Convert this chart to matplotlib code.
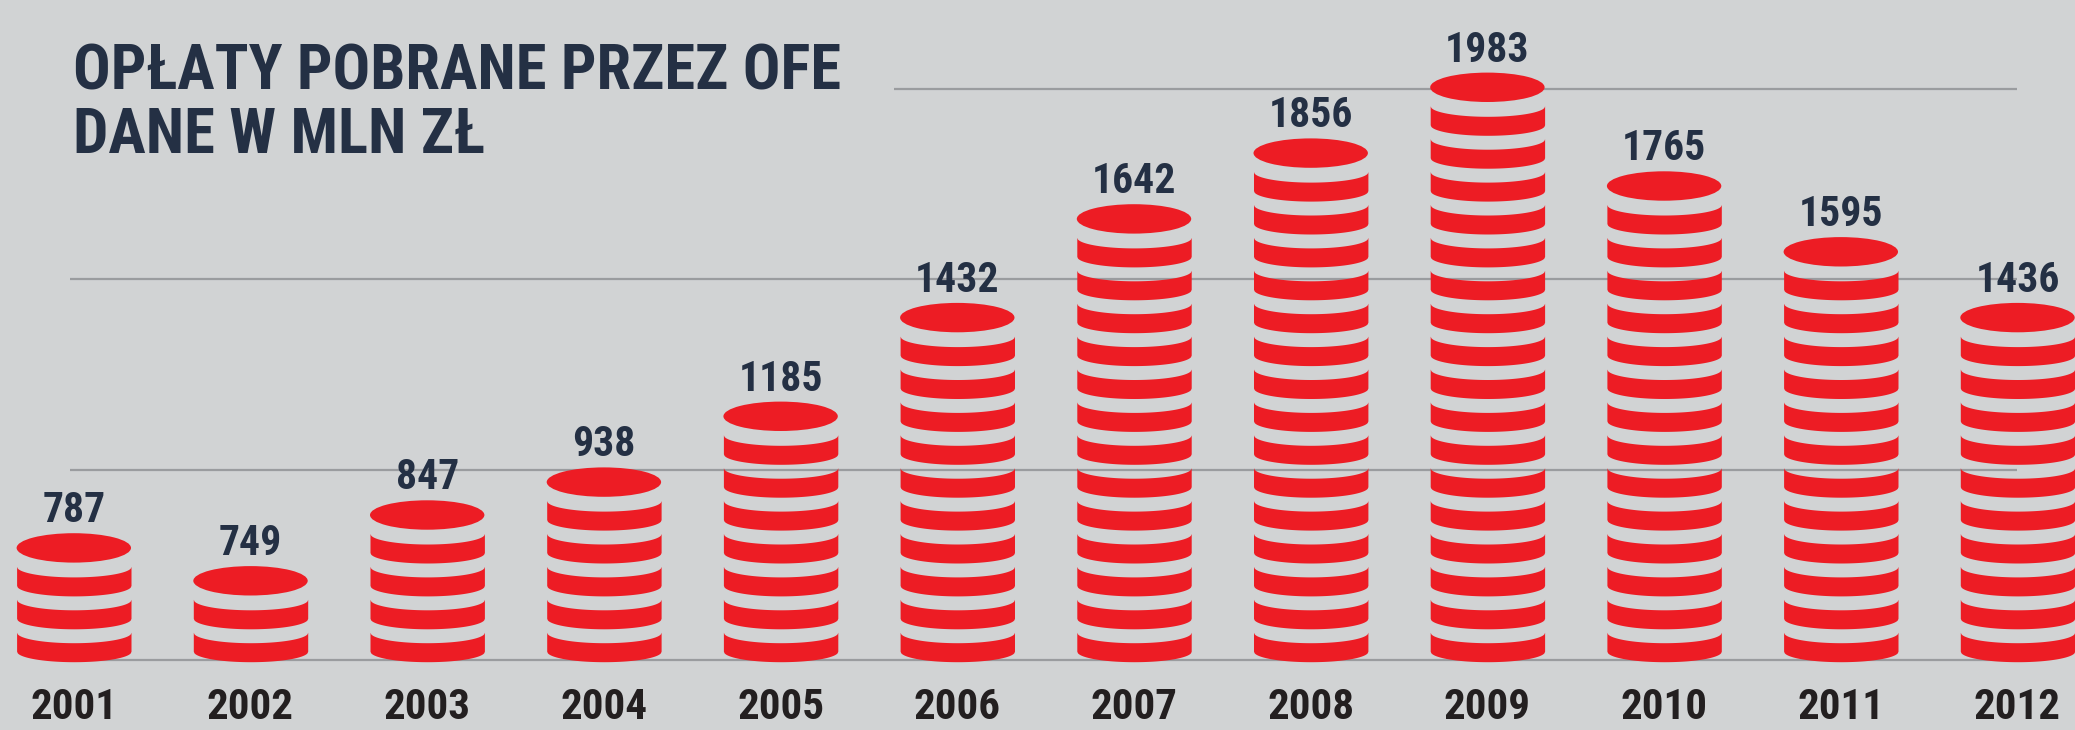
"""Opłaty pobrane przez OFE 2001-2012 - coin stack pictogram.

Writes out.png (2075x730) next to where it is run.
"""
import matplotlib
matplotlib.use("Agg")

import numpy as np
import matplotlib.pyplot as plt
from matplotlib.patches import Ellipse


# ---------------------------------------------------------------------------
# Data
# ---------------------------------------------------------------------------
years = ["2001", "2002", "2003", "2004", "2005", "2006",
         "2007", "2008", "2009", "2010", "2011", "2012"]
fees = [787, 749, 847, 938, 1185, 1432, 1642, 1856, 1983, 1765, 1595, 1436]
grid_values = [500, 1000, 1500, 2000]
title_lines = ["OPŁATY POBRANE PRZEZ OFE", "DANE W MLN ZŁ"]

# ---------------------------------------------------------------------------
# Style
# ---------------------------------------------------------------------------
BG = "#d1d3d4"
RED = "#ed1c24"
NAVY = "#243044"
DARK = "#231f20"
GRID = "#9a9c9f"
COND = ["Roboto Condensed", "DejaVu Sans"]

# layout, in output pixels
W_PX, H_PX = 2075, 730
X0_PX, X_STEP_PX = 73.8, 176.7        # centre of first stack, stack spacing
Y_BASE, Y_BASE_PX = 500, 660          # value sitting on the baseline
PX_PER_UNIT = 0.3807                  # vertical scale


def vy(px):
    """pixel height -> value units"""
    return px / PX_PER_UNIT


HALF_W = 57.2 / X_STEP_PX     # coin half width (x units)
PITCH = vy(32.9)              # one coin
SAG = vy(10.5)                # curvature of coin rims
THICK = vy(19.0)              # red part of a coin rim
CAP_RISE = vy(48.0)           # last rim bottom -> centre of top face
CAP_H = vy(14.7)              # half height of top face
LABEL_RISE = vy(25.7)         # top face centre -> label baseline
COIN_BOTTOM = Y_BASE - vy(1.7)


def main():
    fig = plt.figure(figsize=(W_PX / 100, H_PX / 100), dpi=100)
    fig.patch.set_facecolor(BG)
    ax = fig.add_axes([0, 0, 1, 1])
    ax.set_xlim(-X0_PX / X_STEP_PX, (W_PX - X0_PX) / X_STEP_PX)
    ax.set_ylim(Y_BASE - (H_PX - Y_BASE_PX) / PX_PER_UNIT,
                Y_BASE + Y_BASE_PX / PX_PER_UNIT)
    ax.axis("off")

    # gridlines (top one starts right of the title)
    last = len(fees) - 1
    starts = [0.0, -0.02, -0.02, 4.64]
    for g, x0 in zip(grid_values, starts):
        ax.hlines(g, x0, last, color=GRID, lw=1.6, zorder=1)

    # coin stacks: whole coins only, the label sits on the top face
    u = np.linspace(-1, 1, 161)
    curve = SAG * (1 - np.sqrt(1 - u ** 2))
    for i, v in enumerate(fees):
        n = int((v - Y_BASE) // PITCH)
        x = i + u * HALF_W
        for j in range(n):
            yb = COIN_BOTTOM + j * PITCH + curve
            ax.fill_between(x, yb, yb + THICK, color=RED, lw=0, zorder=3)
        yc = COIN_BOTTOM + (n - 1) * PITCH + CAP_RISE
        ax.add_patch(Ellipse((i, yc), 2 * HALF_W, 2 * CAP_H,
                             facecolor=RED, lw=0, zorder=3))
        ax.text(i, yc + LABEL_RISE, f"{v}", ha="center",
                va="baseline", fontsize=30, fontweight="bold",
                color=NAVY, family=COND)

    y_years = Y_BASE - vy(719 - Y_BASE_PX)
    for i, yr in enumerate(years):
        ax.text(i, y_years, yr, ha="center", va="baseline", fontsize=31,
                fontweight="bold", color=DARK, family=COND)

    # title
    for k, line in enumerate(title_lines):
        fig.text(73 / W_PX, 1 - (90 + 63.3 * k) / H_PX, line,
                 ha="left", va="baseline", fontsize=45, fontweight=900,
                 color=NAVY, family=COND)

    fig.savefig("out.png", dpi=100, facecolor=BG)


if __name__ == "__main__":
    main()
